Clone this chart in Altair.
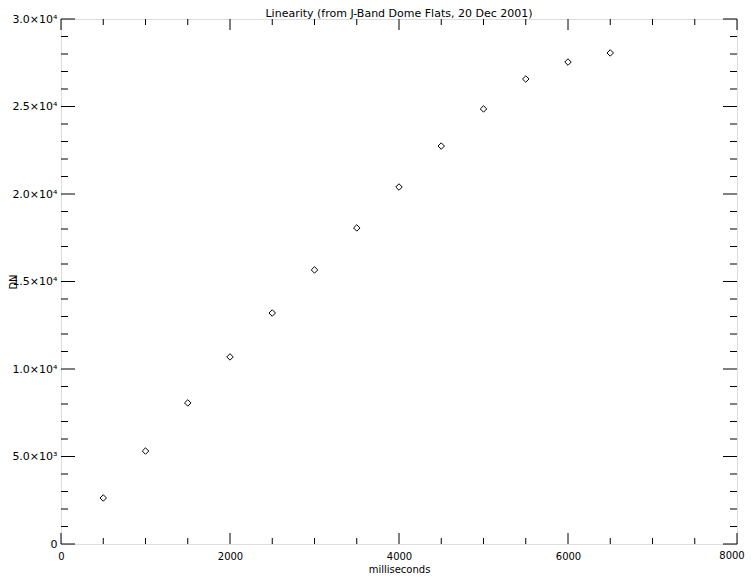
import altair as alt
import pandas as pd

ms = [500, 1000, 1500, 2000, 2500, 3000, 3500, 4000, 4500, 5000, 5500, 6000, 6500]
dn = [2630, 5310, 8060, 10690, 13200, 15660, 18060, 20400, 22740, 24860, 26570, 27540, 28060]

x_major = [0, 2000, 4000, 6000, 8000]
x_minor = [500, 1000, 1500, 2500, 3000, 3500, 4500, 5000, 5500, 6500, 7000, 7500]
y_major = [0, 5000, 10000, 15000, 20000, 25000, 30000]
y_minor = [v for v in range(1000, 30000, 1000) if v % 5000 != 0]

W, H = 676, 525
FONT = "DejaVu Sans"

df = pd.DataFrame({"ms": ms, "dn": dn})
xs = alt.Scale(domain=[0, 8000], nice=False, zero=False)
ys = alt.Scale(domain=[0, 30000], nice=False, zero=False)

ylabel = ("datum.value == 0 ? '0' : (datum.value < 10000 ? format(datum.value/1000, '.1f') + '×10³' "
          ": format(datum.value/10000, '.1f') + '×10⁴')")
# the last x label is drawn by a text layer so it is not clipped at the right edge
xlabel = "datum.value == 8000 ? '' : format(datum.value, 'd')"

xaxis = alt.Axis(title="milliseconds", values=x_major, ticks=False, domain=False, grid=False,
                 labelExpr=xlabel,
                 labelFont=FONT, labelFontSize=10, labelColor="black", labelPadding=7,
                 titleFont=FONT, titleFontSize=10, titleFontWeight="normal", titleColor="black",
                 titleY=25, titleBaseline="middle", labelFlush=False)
yaxis = alt.Axis(title="DN", values=y_major, ticks=False, domain=False, grid=False,
                 labelExpr=ylabel, labelFont=FONT, labelFontSize=11, labelColor="black",
                 labelPadding=4, labelFlush=False,
                 titleFont=FONT, titleFontSize=10, titleFontWeight="normal", titleColor="black",
                 titleX=-48, titleY=H / 2, titleBaseline="middle")

points = alt.Chart(df).mark_point(shape="diamond", filled=False, color="black",
                                  size=42, strokeWidth=1, opacity=1).encode(
    x=alt.X("ms:Q", scale=xs, axis=xaxis),
    y=alt.Y("dn:Q", scale=ys, axis=yaxis),
)

last_label = alt.Chart(pd.DataFrame({"ms": [x_major[-1]]})).mark_text(
    font=FONT, fontSize=10, color="black", align="center", baseline="top", dx=-5
).encode(
    x=alt.X("ms:Q", scale=xs, axis=xaxis),
    y=alt.value(H + 7),
    text=alt.Text("ms:Q", format="d"),
)

def xticks(vals, ln):
    d = pd.DataFrame({"ms": vals})
    bot = alt.Chart(d).mark_rule(color="black", strokeWidth=1).encode(
        x=alt.X("ms:Q", scale=xs, axis=xaxis), y=alt.value(H), y2=alt.value(H - ln))
    top = alt.Chart(d).mark_rule(color="black", strokeWidth=1).encode(
        x=alt.X("ms:Q", scale=xs, axis=xaxis), y=alt.value(0), y2=alt.value(ln))
    return [bot, top]

def yticks(vals, ln):
    d = pd.DataFrame({"dn": vals})
    left = alt.Chart(d).mark_rule(color="black", strokeWidth=1).encode(
        y=alt.Y("dn:Q", scale=ys, axis=yaxis), x=alt.value(0), x2=alt.value(ln))
    right = alt.Chart(d).mark_rule(color="black", strokeWidth=1).encode(
        y=alt.Y("dn:Q", scale=ys, axis=yaxis), x=alt.value(W), x2=alt.value(W - ln))
    return [left, right]

layers = ([points, last_label] + xticks(x_major, 11) + xticks(x_minor, 6)
          + yticks(y_major, 14) + yticks(y_minor, 7))

chart = alt.layer(*layers).properties(
    width=W, height=H,
    title=alt.Title("Linearity (from J-Band Dome Flats, 20 Dec 2001)", font=FONT, fontSize=11,
                    fontWeight="normal", color="black", offset=3, anchor="middle", dy=9),
    autosize="none",
    padding={"left": 53, "top": 11, "right": 10, "bottom": 30},
).configure_view(stroke="black", strokeWidth=1).configure(background="white")

chart.save("out.html", embed_options={"renderer": "svg", "actions": False})
